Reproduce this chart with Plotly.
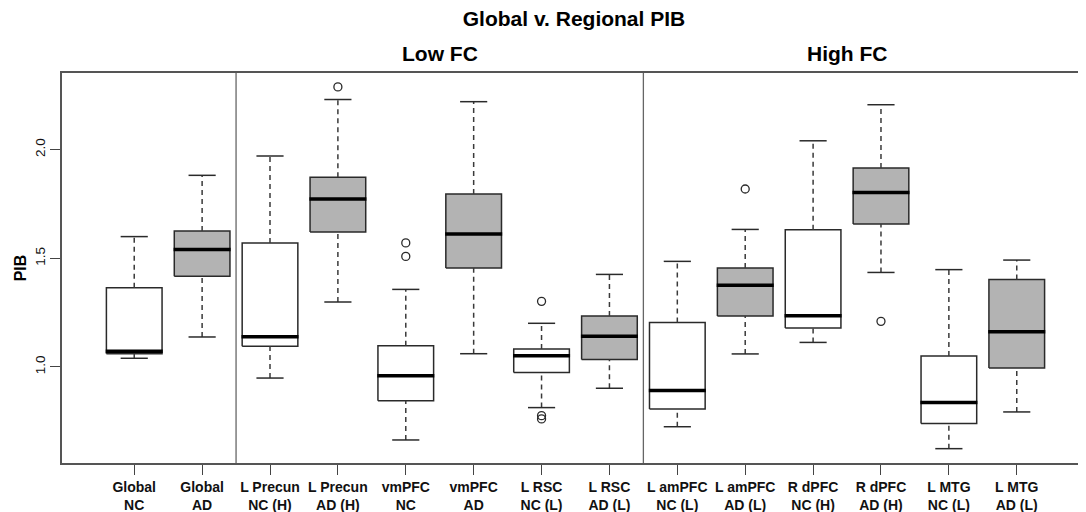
import plotly.graph_objects as go

# ---- data ----
labels = ["Global<br>NC", "Global<br>AD", "L Precun<br>NC (H)", "L Precun<br>AD (H)",
          "vmPFC<br>NC", "vmPFC<br>AD", "L RSC<br>NC (L)", "L RSC<br>AD (L)",
          "L amPFC<br>NC (L)", "L amPFC<br>AD (L)", "R dPFC<br>NC (H)", "R dPFC<br>AD (H)",
          "L MTG<br>NC (L)", "L MTG<br>AD (L)"]
groups = ["NC", "AD"] * 7
lower_whisker = [1.040, 1.138, 0.949, 1.299, 0.664, 1.061, 0.813, 0.902, 0.725, 1.060, 1.113, 1.435, 0.624, 0.793]
q1 = [1.061, 1.417, 1.095, 1.621, 0.844, 1.456, 0.975, 1.034, 0.807, 1.235, 1.179, 1.658, 0.740, 0.995]
median = [1.072, 1.541, 1.139, 1.773, 0.960, 1.612, 1.052, 1.141, 0.892, 1.376, 1.236, 1.803, 0.836, 1.162]
q3 = [1.365, 1.626, 1.571, 1.873, 1.098, 1.796, 1.083, 1.235, 1.205, 1.456, 1.632, 1.916, 1.051, 1.402]
upper_whisker = [1.600, 1.882, 1.971, 2.231, 1.357, 2.221, 1.201, 1.426, 1.486, 1.633, 2.041, 2.207, 1.448, 1.492]
outliers = [[], [], [], [2.289], [1.571, 1.509], [], [1.302, 0.776, 0.761], [], [], [1.819], [], [1.210], [], []]
sections = ["", "Low FC", "High FC"]
section_sizes = [2, 6, 6]
y_ticks = [1.0, 1.5, 2.0]

FONT = "Liberation Sans, Arial, sans-serif"
fill_colors = {"NC": "#ffffff", "AD": "#b3b3b3"}
HALF = 0.41   # half box width
CAP = 0.2     # half staple width
PAGE_OFFSET = 8  # default body margin of the html page

fig = go.Figure()
positions = list(range(1, len(labels) + 1))

# box rectangles
for g in ["NC", "AD"]:
    xs, ys = [], []
    for i, p in enumerate(positions):
        if groups[i] != g:
            continue
        xs += [p - HALF, p + HALF, p + HALF, p - HALF, p - HALF, None]
        ys += [q1[i], q1[i], q3[i], q3[i], q1[i], None]
    fig.add_trace(go.Scatter(x=xs, y=ys, mode="lines", fill="toself",
                             fillcolor=fill_colors[g],
                             line=dict(color="#2a2a2a", width=1.5),
                             hoverinfo="skip", showlegend=False))

# whiskers (dashed)
wx, wy = [], []
for i, p in enumerate(positions):
    wx += [p, p, None, p, p, None]
    wy += [lower_whisker[i], q1[i], None, q3[i], upper_whisker[i], None]
fig.add_trace(go.Scatter(x=wx, y=wy, mode="lines",
                         line=dict(color="#3a3a3a", width=1.5, dash="5px,4px"),
                         hoverinfo="skip", showlegend=False))

# staples
sx, sy = [], []
for i, p in enumerate(positions):
    sx += [p - CAP, p + CAP, None, p - CAP, p + CAP, None]
    sy += [lower_whisker[i], lower_whisker[i], None, upper_whisker[i], upper_whisker[i], None]
fig.add_trace(go.Scatter(x=sx, y=sy, mode="lines",
                         line=dict(color="#2a2a2a", width=1.5),
                         hoverinfo="skip", showlegend=False))

# medians
mx, my = [], []
for i, p in enumerate(positions):
    mx += [p - HALF - 0.01, p + HALF + 0.01, None]
    my += [median[i], median[i], None]
fig.add_trace(go.Scatter(x=mx, y=my, mode="lines",
                         line=dict(color="#000000", width=3.5),
                         hoverinfo="skip", showlegend=False))

# outliers
ox, oy = [], []
for i, p in enumerate(positions):
    for v in outliers[i]:
        ox.append(p)
        oy.append(v)
fig.add_trace(go.Scatter(x=ox, y=oy, mode="markers",
                         marker=dict(symbol="circle-open", size=8, color="#2a2a2a",
                                     line=dict(width=1.3)),
                         hoverinfo="skip", showlegend=False))

# section separators and section titles
start = 0.5
for name, n in zip(sections, section_sizes):
    end = start + n
    if start > 0.5:
        fig.add_shape(type="line", x0=start, x1=start, y0=0, y1=1,
                      xref="x", yref="paper", line=dict(color="#666666", width=1.3))
    if name:
        fig.add_annotation(x=(start + end) / 2, y=1, xref="x", yref="paper",
                           yanchor="middle", yshift=20, showarrow=False, text=name,
                           font=dict(family=FONT, size=21, color="#000000", weight="bold"))
    start = end

fig.update_layout(
    width=1086, height=512,
    margin=dict(l=62 - PAGE_OFFSET, r=PAGE_OFFSET, t=73 - PAGE_OFFSET, b=49 + PAGE_OFFSET),
    plot_bgcolor="#ffffff", paper_bgcolor="#ffffff",
    title=dict(text="Global v. Regional PIB", x=0.5, xref="paper", xanchor="center",
               y=1 - (19 - PAGE_OFFSET) / 512, yref="container", yanchor="middle",
               font=dict(family=FONT, size=21, color="#000000", weight="bold")),
    xaxis=dict(range=[-0.064, 15.02], tickvals=positions, ticktext=labels,
               automargin=False,
               showgrid=False, zeroline=False, showline=True, mirror=True,
               linecolor="#555555", linewidth=1.5,
               ticks="outside", ticklen=10, tickcolor="#444444", tickwidth=1.3,
               tickfont=dict(family=FONT, size=14, color="#111111", weight="bold")),
    yaxis=dict(range=[0.558, 2.353], tickvals=y_ticks, ticktext=[f"{v:.1f}" for v in y_ticks],
               automargin=False,
               tickangle=-90, showgrid=False, zeroline=False, showline=True, mirror=False,
               linecolor="#555555", linewidth=1.5,
               ticks="outside", ticklen=10, tickcolor="#444444", tickwidth=1.3,
               ticklabelstandoff=0,
               tickfont=dict(family=FONT, size=13.5, color="#111111"),
               title=dict(text="PIB", standoff=2,
                          font=dict(family=FONT, size=16, color="#000000", weight="bold"))),
)

fig.write_html("out.html")
